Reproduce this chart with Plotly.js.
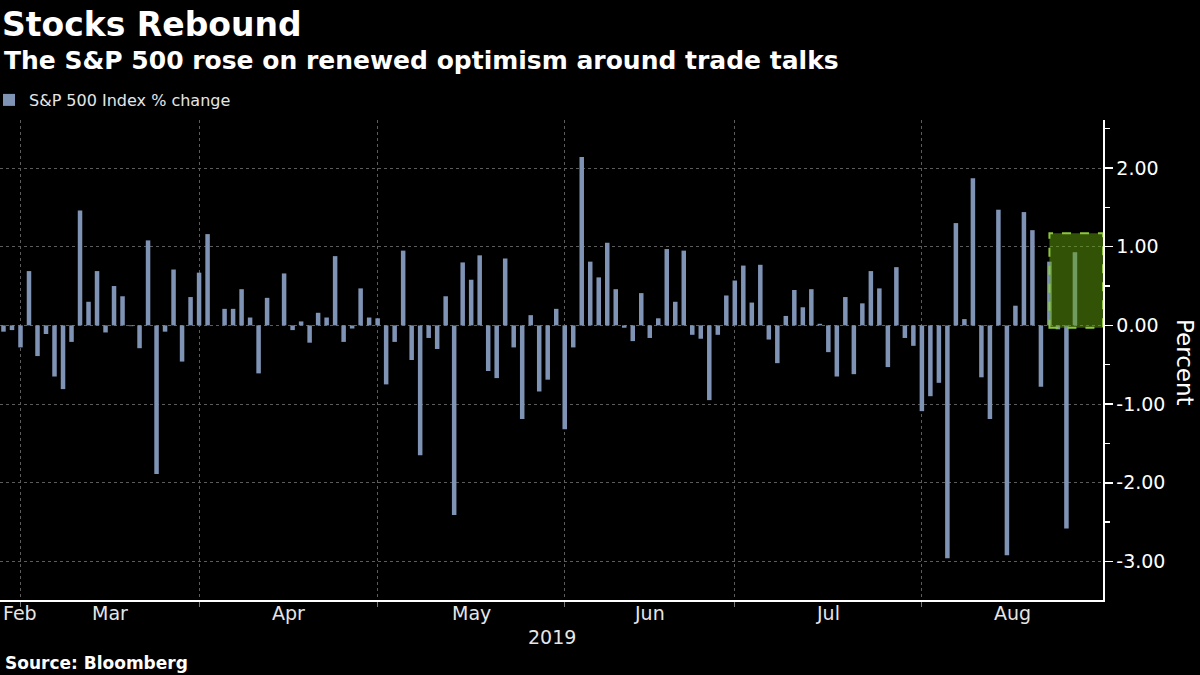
<!DOCTYPE html>
<html>
<head>
<meta charset="utf-8">
<script src="https://cdn.plot.ly/plotly-3.0.1.min.js"></script>
<style>
html, body { margin: 0; padding: 0; background: #000; }
#chart { width: 1200px; height: 675px; }
</style>
</head>
<body>
<div id="chart"></div>
<script>
// ---- Data ----
const seriesName = 'S&P 500 Index % change';

const dates = [
  '2019-02-26','2019-02-27','2019-02-28',
  '2019-03-01','2019-03-04','2019-03-05','2019-03-06','2019-03-07','2019-03-08','2019-03-11','2019-03-12','2019-03-13','2019-03-14','2019-03-15','2019-03-18','2019-03-19','2019-03-20','2019-03-21','2019-03-22','2019-03-25','2019-03-26','2019-03-27','2019-03-28','2019-03-29',
  '2019-04-01','2019-04-02','2019-04-03','2019-04-04','2019-04-05','2019-04-08','2019-04-09','2019-04-10','2019-04-11','2019-04-12','2019-04-15','2019-04-16','2019-04-17','2019-04-18','2019-04-22','2019-04-23','2019-04-24','2019-04-25','2019-04-26','2019-04-29','2019-04-30',
  '2019-05-01','2019-05-02','2019-05-03','2019-05-06','2019-05-07','2019-05-08','2019-05-09','2019-05-10','2019-05-13','2019-05-14','2019-05-15','2019-05-16','2019-05-17','2019-05-20','2019-05-21','2019-05-22','2019-05-23','2019-05-24','2019-05-28','2019-05-29','2019-05-30','2019-05-31',
  '2019-06-03','2019-06-04','2019-06-05','2019-06-06','2019-06-07','2019-06-10','2019-06-11','2019-06-12','2019-06-13','2019-06-14','2019-06-17','2019-06-18','2019-06-19','2019-06-20','2019-06-21','2019-06-24','2019-06-25','2019-06-26','2019-06-27','2019-06-28',
  '2019-07-01','2019-07-02','2019-07-03','2019-07-05','2019-07-08','2019-07-09','2019-07-10','2019-07-11','2019-07-12','2019-07-15','2019-07-16','2019-07-17','2019-07-18','2019-07-19','2019-07-22','2019-07-23','2019-07-24','2019-07-25','2019-07-26','2019-07-29','2019-07-30','2019-07-31',
  '2019-08-01','2019-08-02','2019-08-05','2019-08-06','2019-08-07','2019-08-08','2019-08-09','2019-08-12','2019-08-13','2019-08-14','2019-08-15','2019-08-16','2019-08-19','2019-08-20','2019-08-21','2019-08-22','2019-08-23','2019-08-26'
];

const pctChange = [
  -0.08, -0.06, -0.28,
  0.69, -0.39, -0.11, -0.65, -0.81, -0.21, 1.46, 0.30, 0.69, -0.09, 0.50, 0.37, -0.01, -0.29, 1.08, -1.89, -0.08, 0.71, -0.46, 0.36, 0.67,
  1.16, 0.00, 0.21, 0.21, 0.46, 0.10, -0.61, 0.35, 0.00, 0.66, -0.06, 0.05, -0.22, 0.16, 0.10, 0.88, -0.21, -0.04, 0.47, 0.10, 0.09,
  -0.75, -0.21, 0.95, -0.44, -1.65, -0.16, -0.30, 0.37, -2.41, 0.80, 0.58, 0.89, -0.58, -0.67, 0.85, -0.28, -1.19, 0.13, -0.84, -0.69, 0.21, -1.32,
  -0.28, 2.14, 0.81, 0.61, 1.05, 0.46, -0.03, -0.20, 0.41, -0.16, 0.09, 0.97, 0.30, 0.95, -0.12, -0.17, -0.95, -0.12, 0.38, 0.57,
  0.76, 0.29, 0.77, -0.18, -0.48, 0.12, 0.45, 0.23, 0.46, 0.02, -0.34, -0.65, 0.36, -0.62, 0.28, 0.69, 0.47, -0.53, 0.74, -0.16, -0.26, -1.09,
  -0.90, -0.73, -2.96, 1.30, 0.08, 1.87, -0.66, -1.19, 1.47, -2.92, 0.25, 1.44, 1.21, -0.78, 0.81, -0.05, -2.58, 0.93
];

const monthNames = ['Jan','Feb','Mar','Apr','May','Jun','Jul','Aug','Sep','Oct','Nov','Dec'];
const yTickVals = [-3, -2, -1, 0, 1, 2];
const yMinorVals = [-3.5, -2.5, -1.5, -0.5, 0.5, 1.5, 2.5];
const yearLabel = '2019';
const highlightStartDate = '2019-08-21';
const highlightRange = [-0.03, 1.17];

// ---- Derived positions (trading-day axis) ----
const n = dates.length;
const xIdx = dates.map((d, i) => i);
const xRange = [-0.41, n - 1 + 3.3];

// month-end indices (last trading day of each month) -> gridlines
const monthOf = d => parseInt(d.slice(5, 7), 10);
const monthEnds = [];
for (let i = 0; i < n - 1; i++) if (monthOf(dates[i]) !== monthOf(dates[i + 1])) monthEnds.push(i);
const monthsPresent = [];
dates.forEach(d => { const m = monthOf(d); if (!monthsPresent.includes(m)) monthsPresent.push(m); });

// pixel helpers for text placed in paper coordinates
const PL = 0, PR = 1103, PT = 120, PB = 600;
const fx = px => (px - PL) / (PR - PL);
const fy = py => (PB - py) / (PB - PT);

const txtFont = 'DejaVu Sans, Verdana, sans-serif';
const annotations = [];

// month labels
monthsPresent.forEach((m, k) => {
  let xc;
  if (k === 0) {
    xc = monthEnds[0];
  } else {
    const left = monthEnds[k - 1];
    const right = (k < monthEnds.length) ? monthEnds[k] : xRange[1];
    xc = (left + right) / 2;
  }
  annotations.push({ xref: 'x', yref: 'paper', x: xc, y: fy(613), text: monthNames[m - 1],
    showarrow: false, xanchor: 'center', yanchor: 'middle', font: { family: txtFont, size: 19, color: '#e6e6e6' } });
});
annotations.push({ xref: 'paper', yref: 'paper', x: 0.5, y: fy(637), text: yearLabel, showarrow: false,
  xanchor: 'center', yanchor: 'middle', font: { family: txtFont, size: 19, color: '#e6e6e6' } });

// subtitle, source, y-axis title
annotations.push({ xref: 'paper', yref: 'paper', x: fx(2), y: fy(60), text: '<b>The S&P 500 rose on renewed optimism around trade talks</b>',
  showarrow: false, xanchor: 'left', yanchor: 'middle', font: { family: txtFont, size: 25, color: '#ffffff' } });
annotations.push({ xref: 'paper', yref: 'paper', x: fx(3), y: fy(663), text: '<b>Source: Bloomberg</b>',
  showarrow: false, xanchor: 'left', yanchor: 'middle', font: { family: txtFont, size: 17, color: '#ffffff' } });
annotations.push({ xref: 'paper', yref: 'paper', x: fx(1185), y: fy(362), text: 'Percent', textangle: 90,
  showarrow: false, xanchor: 'center', yanchor: 'middle', font: { family: txtFont, size: 23, color: '#ffffff' } });

const hlStart = dates.indexOf(highlightStartDate);

const trace = {
  type: 'bar',
  x: xIdx,
  y: pctChange,
  name: seriesName,
  text: dates,
  textposition: 'none',
  hovertemplate: '%{text}: %{y:.2f}%<extra></extra>',
  marker: { color: '#7f93b5', line: { width: 0 } },
  width: 0.53,
  showlegend: true
};

const layout = {
  width: 1200, height: 675,
  paper_bgcolor: '#000000', plot_bgcolor: '#000000',
  margin: { l: PL, r: 1200 - PR, t: PT, b: 675 - PB, autoexpand: false },
  font: { family: txtFont, color: '#ffffff' },
  title: { text: '<b>Stocks Rebound</b>', font: { family: txtFont, size: 33, color: '#ffffff' },
    xref: 'container', yref: 'container', x: 2 / 1200, xanchor: 'left', y: 1 - 24 / 675, yanchor: 'middle' },
  showlegend: true,
  legend: { x: fx(-11), xanchor: 'left', y: fy(100), yanchor: 'middle', orientation: 'h',
    bgcolor: 'rgba(0,0,0,0)', borderwidth: 0, itemwidth: 30,
    font: { family: txtFont, size: 16, color: '#e6e6e6' } },
  xaxis: {
    range: xRange, type: 'linear',
    tickmode: 'array', tickvals: monthEnds, ticktext: monthEnds.map(() => ''),
    showgrid: true, gridcolor: '#5c5c5c', griddash: 'dot', gridwidth: 1,
    ticks: 'outside', ticklen: 5, tickcolor: '#777777',
    showline: true, linecolor: '#ffffff', linewidth: 1.5,
    zeroline: false, fixedrange: true
  },
  yaxis: {
    side: 'right', range: [-3.49, 2.61],
    tickmode: 'array', tickvals: yTickVals, ticktext: yTickVals.map(v => v.toFixed(2)),
    tickfont: { family: txtFont, size: 19, color: '#ffffff' },
    showgrid: true, gridcolor: '#5c5c5c', griddash: 'dot', gridwidth: 1,
    ticks: 'outside', ticklen: 8, tickcolor: '#ffffff', tickwidth: 1.5,
    minor: { tickmode: 'array', tickvals: yMinorVals, ticks: 'outside', ticklen: 5, tickcolor: '#ffffff', showgrid: false },
    showline: true, linecolor: '#ffffff', linewidth: 1.5,
    zeroline: false, fixedrange: true
  },
  bargap: 0.47,
  shapes: [{
    type: 'rect', xref: 'x', yref: 'y', layer: 'above',
    x0: hlStart, x1: xRange[1], y0: highlightRange[0], y1: highlightRange[1],
    fillcolor: 'rgba(100,165,10,0.5)',
    line: { color: '#8cc63f', width: 2, dash: 'dash' }
  }],
  annotations: annotations
};

Plotly.newPlot('chart', [trace], layout, { displayModeBar: false, staticPlot: true });
</script>
</body>
</html>
